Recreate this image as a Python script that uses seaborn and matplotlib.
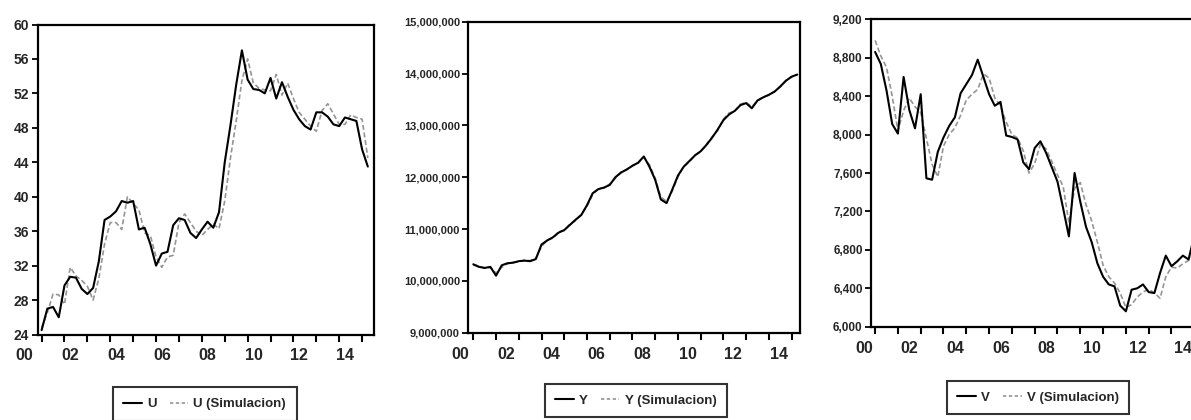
import numpy as np
import pandas as pd
import matplotlib
matplotlib.use("Agg")
import matplotlib.pyplot as plt
import matplotlib.ticker as mticker
from matplotlib.lines import Line2D
from matplotlib.transforms import ScaledTranslation
import seaborn as sns

# ---------------- data (quarterly, 2000Q1 onwards) ----------------
quarters = pd.period_range("2000Q1", periods=58, freq="Q")

u_actual = [24.5, 27.0, 27.2, 26.0, 29.7, 30.7, 30.6, 29.3, 28.7, 29.4,
            32.5, 37.3, 37.7, 38.3, 39.5, 39.3, 39.5, 36.2, 36.4, 34.5,
            32.0, 33.4, 33.6, 36.7, 37.5, 37.3, 35.8, 35.2, 36.2, 37.1,
            36.4, 38.2, 44.0, 48.3, 53.0, 57.0, 53.6, 52.5, 52.4, 52.0,
            53.8, 51.4, 53.3, 51.6, 50.1, 49.0, 48.2, 47.8, 49.8, 49.8,
            49.3, 48.4, 48.2, 49.2, 49.0, 48.8, 45.5, 43.5]
u_sim = [24.8, 26.5, 28.7, 28.6, 27.5, 31.8, 30.8, 30.3, 29.6, 28.0,
         30.5, 34.5, 37.0, 37.0, 36.2, 40.0, 39.2, 38.5, 35.8, 35.5,
         33.0, 31.8, 33.0, 33.2, 37.0, 38.0, 37.0, 36.0, 35.5, 36.2,
         36.8, 36.3, 39.5, 44.5, 48.8, 53.5, 56.0, 53.2, 52.6, 52.4,
         52.3, 54.2, 51.8, 53.2, 51.4, 49.8, 49.0, 48.2, 47.6, 50.0,
         50.8, 49.6, 48.4, 48.4, 49.5, 49.2, 49.0, 44.5]

# Y in millions
y_actual_m = [10.32, 10.27, 10.25, 10.27, 10.10, 10.30, 10.34, 10.35, 10.38, 10.39,
              10.38, 10.42, 10.70, 10.78, 10.84, 10.93, 10.98, 11.08, 11.18, 11.27,
              11.46, 11.69, 11.77, 11.80, 11.85, 12.00, 12.09, 12.15, 12.22, 12.28,
              12.40, 12.20, 11.95, 11.57, 11.50, 11.76, 12.03, 12.20, 12.31, 12.42,
              12.50, 12.62, 12.76, 12.92, 13.10, 13.21, 13.28, 13.39, 13.43, 13.33,
              13.48, 13.54, 13.59, 13.65, 13.75, 13.86, 13.94, 13.98]
y_sim_m = [10.30, 10.29, 10.24, 10.26, 10.15, 10.26, 10.33, 10.36, 10.37, 10.40,
           10.39, 10.44, 10.66, 10.79, 10.82, 10.95, 10.97, 11.10, 11.16, 11.29,
           11.44, 11.66, 11.78, 11.79, 11.87, 11.98, 12.10, 12.14, 12.23, 12.27,
           12.38, 12.24, 11.98, 11.62, 11.53, 11.73, 12.00, 12.21, 12.29, 12.43,
           12.49, 12.63, 12.78, 12.90, 13.12, 13.24, 13.27, 13.41, 13.44, 13.36,
           13.47, 13.55, 13.58, 13.66, 13.74, 13.87, 13.93, 13.98]

v_actual = [8860, 8735, 8460, 8110, 8010, 8600, 8256, 8065, 8420, 7545,
            7530, 7820, 7970, 8090, 8180, 8430, 8525, 8620, 8780, 8600,
            8420, 8300, 8340, 7990, 7975, 7950, 7710, 7640, 7860, 7930,
            7810, 7660, 7510, 7230, 6940, 7600, 7300, 7040, 6880, 6660,
            6520, 6440, 6420, 6220, 6160, 6385, 6400, 6440, 6360, 6350,
            6560, 6740, 6630, 6680, 6740, 6700, 6950, 7050]
v_sim = [8980, 8820, 8700, 8400, 8040, 8250, 8380, 8290, 8230, 7960,
         7690, 7560, 7880, 8000, 8070, 8200, 8360, 8420, 8470, 8630,
         8590, 8380, 8300, 8130, 8000, 7965, 7830, 7600, 7700, 7900,
         7850, 7720, 7580, 7460, 7080, 7440, 7500, 7270, 7100, 6880,
         6640, 6520, 6455, 6350, 6200, 6230, 6310, 6360, 6390, 6350,
         6296, 6520, 6620, 6610, 6655, 6690, 6760, 6900]

year_labels = ["00", "", "02", "", "04", "", "06", "", "08", "", "10", "", "12", "", "14"]

# ---------------- style ----------------
sns.set_style("ticks")
plt.rcParams["font.family"] = ["Liberation Sans Narrow", "Liberation Sans", "DejaVu Sans"]
plt.rcParams["font.weight"] = "bold"

W, H = 1191, 420
fig = plt.figure(figsize=(W / 100, H / 100), dpi=100)

# years since 2000 for each quarter
t = (quarters.year - 2000) + (quarters.quarter - 1) / 4.0

def px_axes(l, r, top, bot):
    return fig.add_axes([l / W, 1 - bot / H, (r - l) / W, (bot - top) / H])

panels = [
    dict(rect=(37.7, 374, 24.5, 334.5), name="U", act=u_actual, sim=u_sim,
         ylim=(24, 60), yticks=np.arange(24, 61, 4), fmt="{x:.0f}", ysize=10,
         xlim=(-0.17, 14.52), loff_px=-17, leg=(204.7, 404)),
    dict(rect=(468.3, 800, 21.7, 332.7), name="Y",
         act=np.array(y_actual_m) * 1e6, sim=np.array(y_sim_m) * 1e6,
         ylim=(9e6, 15e6), yticks=np.arange(9e6, 15.1e6, 1e6), fmt="{x:,.0f}", ysize=8,
         xlim=(-0.22, 14.37), loff_px=-13, leg=(635.8, 400.5)),
    dict(rect=(871, 1205, 19.3, 326.7), name="V", act=v_actual, sim=v_sim,
         ylim=(6000, 9200), yticks=np.arange(6000, 9201, 400), fmt="{x:,.0f}", ysize=8.5,
         xlim=(-0.18, 14.47), loff_px=-11, leg=(1038, 397.5)),
]

for p in panels:
    ax = px_axes(*p["rect"])
    df = pd.DataFrame({"t": np.concatenate([t, t]),
                       "value": np.concatenate([p["act"], p["sim"]]),
                       "serie": [p["name"]] * len(t) + [p["name"] + " (Simulacion)"] * len(t)})
    sns.lineplot(data=df[df["serie"] == p["name"] + " (Simulacion)"], x="t", y="value",
                 ax=ax, color="#959595", linewidth=1.2, legend=False)
    ax.lines[-1].set_dashes((3, 1.6))
    sns.lineplot(data=df[df["serie"] == p["name"]], x="t", y="value",
                 ax=ax, color="black", linewidth=1.5, legend=False)

    ax.set_xticks(np.arange(0, 15))
    ax.set_xticklabels(year_labels)
    ax.set_xlim(*p["xlim"])
    ax.set_yticks(p["yticks"])
    ax.set_ylim(*p["ylim"])
    ax.yaxis.set_major_formatter(mticker.StrMethodFormatter(p["fmt"]))
    ax.tick_params(axis="x", which="major", length=5, width=1.5, direction="out",
                   color="black", pad=5, labelsize=11.5)
    ax.tick_params(axis="y", which="major", length=4, width=1.3, direction="out",
                   pad=2, labelsize=p["ysize"], color="black")
    shift = ScaledTranslation(p["loff_px"] / 100, 0, fig.dpi_scale_trans)
    for lab in ax.get_xticklabels():
        lab.set_transform(lab.get_transform() + shift)
    ax.set_xlabel("")
    ax.set_ylabel("")
    for s in ax.spines.values():
        s.set_linewidth(1.6)
        s.set_color("black")

    handles = [Line2D([], [], color="black", lw=1.5),
               Line2D([], [], color="#959595", lw=1.2, dashes=(2, 1.5))]
    leg = fig.legend(handles, [p["name"], p["name"] + " (Simulacion)"],
                     loc="center", bbox_to_anchor=(p["leg"][0] / W, 1 - p["leg"][1] / H),
                     ncol=2, frameon=True, fancybox=False, edgecolor="black",
                     handlelength=1.4, handletextpad=0.4, columnspacing=1.0,
                     borderpad=0.8, fontsize=9.5)
    leg.get_frame().set_linewidth(1.5)

fig.savefig("out.png", dpi=100)
